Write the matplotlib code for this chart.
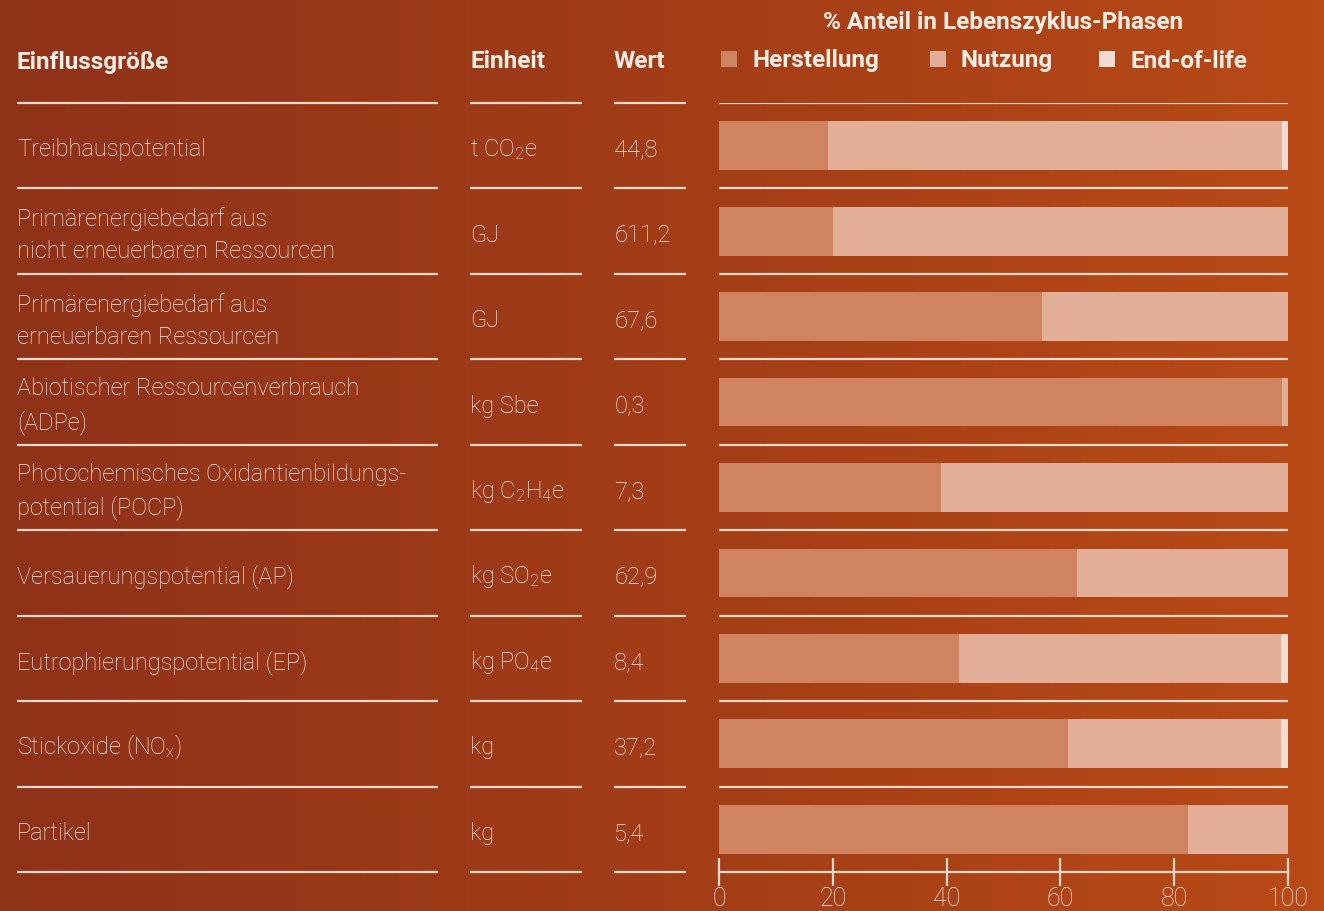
import numpy as np
import matplotlib.pyplot as plt
from matplotlib.colors import LinearSegmentedColormap

plt.rcParams['font.family'] = ['Roboto', 'DejaVu Sans']
plt.rcParams['mathtext.default'] = 'regular'

# data
groessen = ["Treibhauspotential",
            "Primärenergiebedarf aus\nnicht erneuerbaren Ressourcen",
            "Primärenergiebedarf aus\nerneuerbaren Ressourcen",
            "Abiotischer Ressourcenverbrauch\n(ADPe)",
            "Photochemisches Oxidantienbildungs-\npotential (POCP)",
            "Versauerungspotential (AP)",
            "Eutrophierungspotential (EP)",
            "Stickoxide (NO$_x$)",
            "Partikel"]
einheiten = ["t CO$_2$e", "GJ", "GJ", "kg Sbe", "kg C$_2$H$_4$e",
             "kg SO$_2$e", "kg PO$_4$e", "kg", "kg"]
werte = ["44,8", "611,2", "67,6", "0,3", "7,3", "62,9", "8,4", "37,2", "5,4"]
herstellung = [19.2, 20.0, 56.8, 98.9, 39.0, 62.9, 42.2, 61.3, 82.5]
nutzung = [79.7, 80.0, 43.2, 1.1, 61.0, 37.1, 56.6, 37.5, 17.5]
end_of_life = [1.1, 0.0, 0.0, 0.0, 0.0, 0.0, 1.2, 1.2, 0.0]
phasen = ["Herstellung", "Nutzung", "End-of-life"]
ticks = [0, 20, 40, 60, 80, 100]

c_her = "#D08360"
c_nut = "#E2AE98"
c_eol = "#F2DCD3"
txt = "#FAEDE6"
line_c = "#F0D8CD"

W, H = 1324, 912
fig = plt.figure(figsize=(W / 100, H / 100), dpi=100)

# background gradient
bg = fig.add_axes([0, 0, 1, 1])
cmap = LinearSegmentedColormap.from_list("bg", ["#8E3219", "#A23D17", "#B84A16"])
grad = np.linspace(0, 1, 256).reshape(1, -1)
bg.imshow(grad, cmap=cmap, aspect="auto", extent=[0, W, H, 0])
bg.set_xlim(0, W)
bg.set_ylim(H, 0)
bg.axis("off")

top, bottom = 104, 873
n = len(groessen)
row_h = (bottom - top) / n
cols = [(17, 438), (470, 582), (614, 686)]
body = dict(color=txt, fontsize=17, fontweight="light", va="center")
head = dict(color=txt, fontsize=17.5, fontweight="bold", va="center")

# header
bg.text(17, 62, "Einflussgröße", **head)
bg.text(470, 62, "Einheit", **head)
bg.text(614, 62, "Wert", **head)
bg.text(1003, 22, "% Anteil in Lebenszyklus-Phasen", ha="center", **head)

leg_x = [721, 930, 1099]
for x0, name, col in zip(leg_x, phasen, [c_her, c_nut, c_eol]):
    bg.add_patch(plt.Rectangle((x0, 52), 16, 16, color=col, lw=0))
    bg.text(x0 + 31, 61, name, **head)

# table lines and text
for i in range(n + 1):
    y = top + i * row_h
    for x0, x1 in cols:
        bg.plot([x0, x1], [y, y], color=line_c, lw=1.6, solid_capstyle="butt")
for i in range(n):
    yc = top + (i + 0.5) * row_h + 3
    bg.text(17, yc, groessen[i], linespacing=1.5, **body)
    bg.text(470, yc, einheiten[i], **body)
    bg.text(614, yc, werte[i], **body)

# bars
ax = fig.add_axes([719 / W, 1 - bottom / H, (1288 - 719) / W, (bottom - top) / H])
ax.patch.set_alpha(0)
y = np.arange(n) + 0.5
her = np.array(herstellung)
nut = np.array(nutzung)
eol = np.array(end_of_life)
ax.barh(y, her, height=0.57, color=c_her, lw=0)
ax.barh(y, nut, left=her, height=0.57, color=c_nut, lw=0)
ax.barh(y, eol, left=her + nut, height=0.57, color=c_eol, lw=0)
for i in range(n):
    ax.axhline(i, color=line_c, lw=1.6)
ax.set_xlim(0, 100)
ax.set_ylim(n, 0)
for s in ["top", "left", "right"]:
    ax.spines[s].set_visible(False)
ax.spines["bottom"].set_color(line_c)
ax.spines["bottom"].set_linewidth(1.6)
ax.set_yticks([])
ax.set_xticks(ticks)
ax.tick_params(axis="x", direction="inout", length=20, width=1.6, color=line_c,
               labelcolor=txt, labelsize=18, pad=0)
for lab in ax.get_xticklabels():
    lab.set_fontweight("light")

fig.savefig("out.png", dpi=100)
